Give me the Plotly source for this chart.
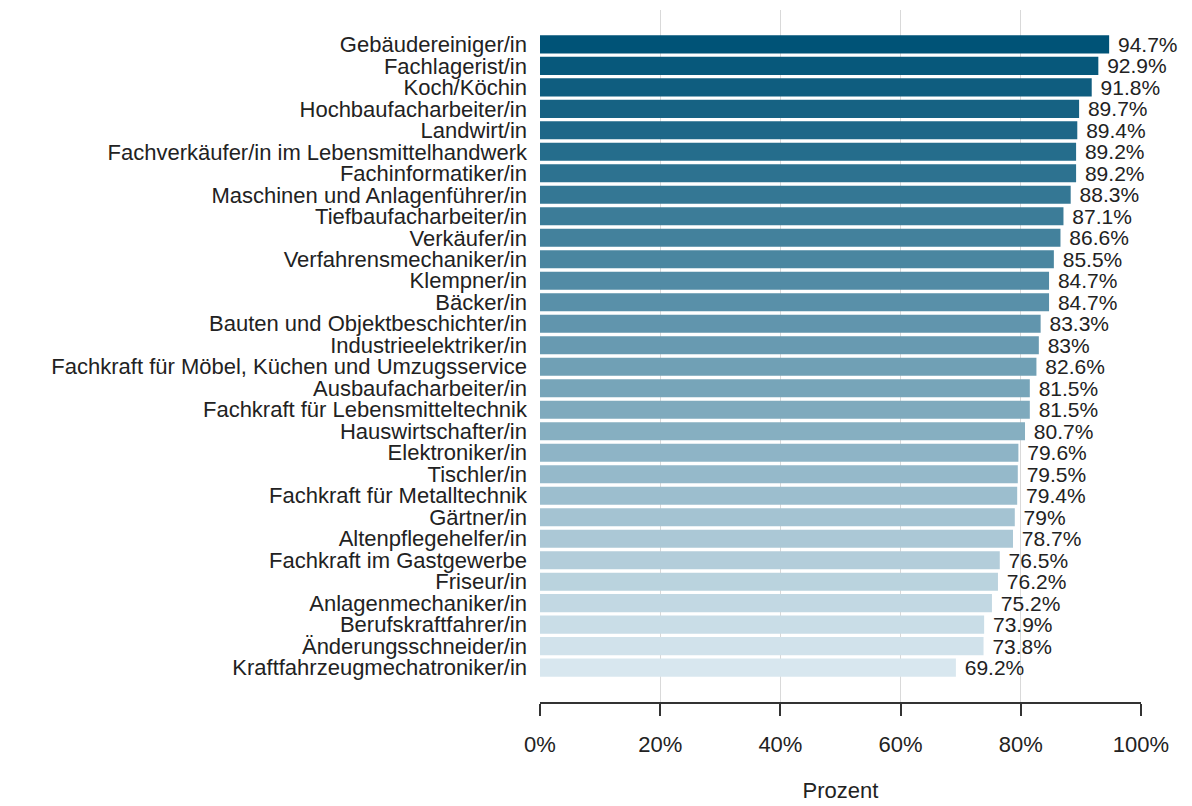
import plotly.graph_objects as go
from plotly.colors import n_colors

berufe = [
    "Gebäudereiniger/in", "Fachlagerist/in", "Koch/Köchin", "Hochbaufacharbeiter/in",
    "Landwirt/in", "Fachverkäufer/in im Lebensmittelhandwerk", "Fachinformatiker/in",
    "Maschinen und Anlagenführer/in", "Tiefbaufacharbeiter/in", "Verkäufer/in",
    "Verfahrensmechaniker/in", "Klempner/in", "Bäcker/in", "Bauten und Objektbeschichter/in",
    "Industrieelektriker/in", "Fachkraft für Möbel, Küchen und Umzugsservice",
    "Ausbaufacharbeiter/in", "Fachkraft für Lebensmitteltechnik", "Hauswirtschafter/in",
    "Elektroniker/in", "Tischler/in", "Fachkraft für Metalltechnik", "Gärtner/in",
    "Altenpflegehelfer/in", "Fachkraft im Gastgewerbe", "Friseur/in",
    "Anlagenmechaniker/in", "Berufskraftfahrer/in", "Änderungsschneider/in",
    "Kraftfahrzeugmechatroniker/in",
]
prozent = [
    94.7, 92.9, 91.8, 89.7, 89.4, 89.2, 89.2, 88.3, 87.1, 86.6,
    85.5, 84.7, 84.7, 83.3, 83, 82.6, 81.5, 81.5, 80.7, 79.6,
    79.5, 79.4, 79, 78.7, 76.5, 76.2, 75.2, 73.9, 73.8, 69.2,
]
tick_werte = [0, 20, 40, 60, 80, 100]
tick_text = ["0%", "20%", "40%", "60%", "80%", "100%"]

farben = n_colors("rgb(0,83,119)", "rgb(216,231,239)", len(berufe), colortype="rgb")

fig = go.Figure(go.Bar(
    x=prozent,
    y=berufe,
    orientation="h",
    marker=dict(color=farben, line=dict(width=0)),
    width=0.84,
    text=[f" {v:g}%" for v in prozent],
    textposition="outside",
    constraintext="none",
    textfont=dict(size=21, color="#222"),
    cliponaxis=False,
))

# page body has an 8px margin, so margins are shifted accordingly
fig.update_layout(
    width=1192, height=806,
    margin=dict(l=532, r=59, t=2, b=112),
    plot_bgcolor="white",
    paper_bgcolor="white",
    font=dict(family="Liberation Sans, Arial, sans-serif", size=22, color="#222"),
    showlegend=False,
    xaxis=dict(
        range=[0, 100],
        automargin=False,
        tickvals=tick_werte,
        ticktext=tick_text,
        showgrid=True,
        gridcolor="#d9d9d9",
        gridwidth=1,
        showline=True,
        linecolor="#333",
        linewidth=1.5,
        ticks="outside",
        ticklen=12,
        tickcolor="#333",
        tickwidth=1.5,
        zeroline=False,
        ticklabelstandoff=10,
        title=dict(text="Prozent", standoff=26, font=dict(size=22)),
        tickfont=dict(size=22),
    ),
    yaxis=dict(
        automargin=False,
        autorange=False,
        range=[29 + 1.6, -1.6],
        tickmode="array",
        tickvals=berufe,
        ticktext=berufe,
        ticks="",
        showgrid=False,
        tickfont=dict(size=22),
        ticklabelstandoff=12,
    ),
    bargap=0.16,
)

fig.write_html("out.html")
